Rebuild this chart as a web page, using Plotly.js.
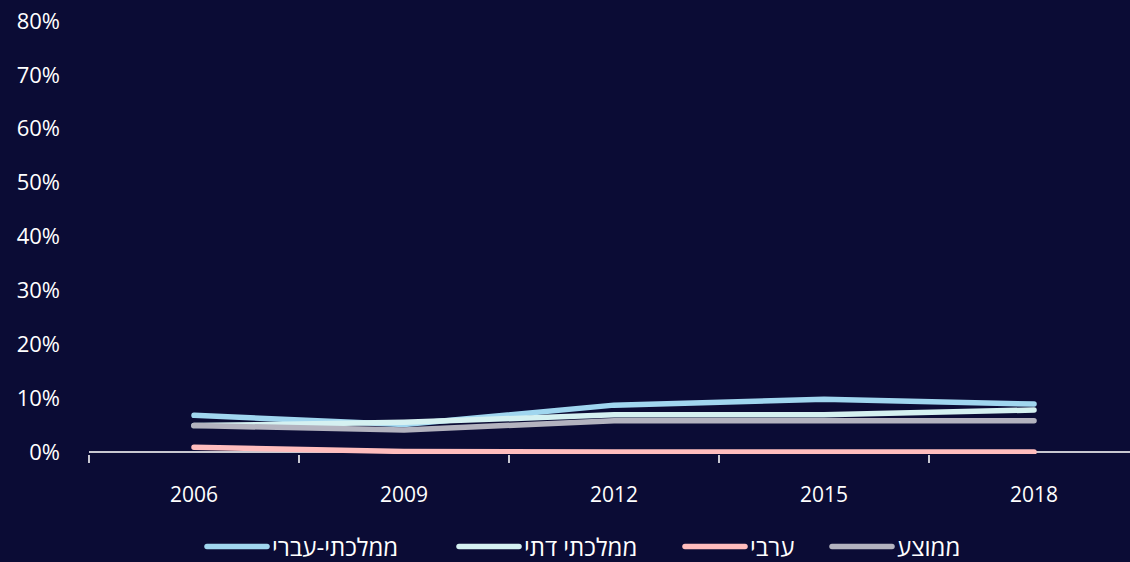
<!DOCTYPE html>
<html>
<head>
<meta charset="utf-8">
<script src="https://cdn.plot.ly/plotly-3.0.1.min.js"></script>
<style>
html,body{margin:0;padding:0;background:#0b0c35;}
#chart{width:1130px;height:562px;}
#chart path.js-line{stroke-linecap:round;stroke-linejoin:round;}
#chart .legendlines path{stroke-linecap:round;}
</style>
</head>
<body>
<div id="chart"></div>
<script>
const years = ["2006", "2009", "2012", "2015", "2018"];
const seriesNames = ["ממלכתי-עברי", "ממלכתי דתי", "ערבי", "ממוצע"];
const stateHebrew = [6.8, 5.1, 8.7, 9.8, 8.9];
const stateReligious = [4.9, 5.5, 6.9, 6.9, 7.8];
const arab = [0.9, 0.1, 0.0, 0.0, 0.0];
const average = [4.9, 4.1, 5.8, 5.8, 5.8];
const yTickVals = [0, 10, 20, 30, 40, 50, 60, 70, 80];
const yTickText = ["0%", "10%", "20%", "30%", "40%", "50%", "60%", "70%", "80%"];

const colors = ["#a0d6ef", "#d5f1f1", "#ffbdbd", "#b3b3bf"];
const values = [stateHebrew, stateReligious, arab, average];
const legendIds = ["legend", "legend2", "legend3", "legend4"];
const legendLeft = [202, 454, 680, 827];
const font = "Open Sans, DejaVu Sans, sans-serif";

const traces = values.map((v, i) => ({
  type: "scatter",
  mode: "lines",
  x: years,
  y: v,
  name: seriesNames[i],
  legend: legendIds[i],
  line: {color: colors[i], width: 5.5},
  hoverinfo: "skip"
}));

const layout = {
  width: 1130,
  height: 562,
  paper_bgcolor: "#0b0c35",
  plot_bgcolor: "#0b0c35",
  margin: {l: 89, r: 0, t: 21, b: 108},
  font: {family: font, color: "#ffffff", size: 21},
  showlegend: true,
  xaxis: {
    type: "category",
    range: [-0.5, 4.457],
    showgrid: false,
    showline: false,
    zeroline: false,
    ticks: "outside",
    tickson: "boundaries",
    ticklen: 8,
    tickwidth: 2,
    tickcolor: "#c8c8d0",
    tickfont: {size: 21, color: "#ffffff"},
    ticklabelstandoff: 26
  },
  yaxis: {
    range: [-0.37, 80],
    tickvals: yTickVals,
    ticktext: yTickText,
    showgrid: false,
    showline: false,
    zeroline: true,
    zerolinecolor: "#c8c8d0",
    zerolinewidth: 2,
    ticks: "",
    tickfont: {size: 22, color: "#ffffff"},
    ticklabelstandoff: 28
  }
};

legendIds.forEach((id, i) => {
  layout[id] = {
    orientation: "h",
    xref: "container", yref: "container",
    x: legendLeft[i] / 1130, xanchor: "left",
    y: 0.027, yanchor: "middle",
    font: {size: 24, color: "#ffffff"},
    itemwidth: 60,
    bgcolor: "rgba(0,0,0,0)"
  };
});

Plotly.newPlot("chart", traces, layout, {displayModeBar: false, staticPlot: true});
</script>
</body>
</html>
